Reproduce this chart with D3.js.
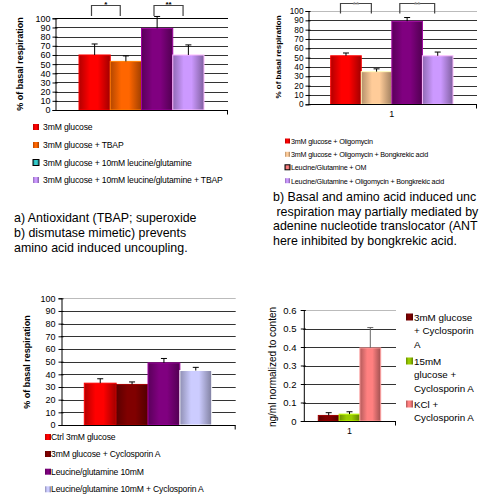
<!DOCTYPE html>
<html>
<head>
<meta charset="utf-8">
<script src="https://cdn.jsdelivr.net/npm/d3@7"></script>
<style>
  body { margin: 0; background: #fff; }
  svg { display: block; font-family: "Liberation Sans", Arial, sans-serif; }
</style>
</head>
<body>
<div id="chart"></div>
<script>
// ---- data ----
var p1Cats = ["3mM glucose", "3mM glucose + TBAP", "3mM glucose + 10mM  leucine/glutamine", "3mM glucose + 10mM leucine/glutamine + TBAP"];
var p1Values = [60, 53, 89, 60];
var p1Errors = [12, 6, 13, 11];
var p1Colors = ["#ff0000", "#ff6600", "#800080", "#cc99ff"];
var p1Swatch = ["#ff0000", "#ff6600", "#33cccc", "#cc99ff"];

var p2Cats = ["3mM glucose + Oligomycin", "3mM glucose + Oligomycin + Bongkrekic acid", "Leucine/Glutamine + OM", "Leucine/Glutamine + Oligomycin + Bongkrekic acid"];
var p2Values = [52, 35, 89, 52];
var p2Errors = [3, 3, 4, 4];
var p2Colors = ["#ff0000", "#ffcc99", "#800080", "#cc99ff"];
var p2Swatch = ["#ff0000", "#ffcc99", "#ff8080", "#cc99ff"];

var p3Cats = ["Ctrl 3mM glucose", "3mM glucose + Cyclosporin A", "Leucine/glutamine 10mM", "Leucine/glutamine 10mM + Cyclosporin A"];
var p3Values = [33, 32, 49, 43];
var p3Errors = [3.5, 2, 3.5, 2.5];
var p3Colors = ["#ff0000", "#800000", "#800080", "#ccccff"];

var p4Cats = [["3mM glucose", "+ Cyclosporin", "A"], ["15mM", "glucose +", "Cyclosporin A"], ["KCl +", "Cyclosporin A"]];
var p4Values = [0.03, 0.037, 0.395];
var p4Errors = [0.015, 0.013, 0.11];
var p4Colors = ["#800000", "#99cc00", "#ff8080"];

var pctTicks = [0, 10, 20, 30, 40, 50, 60, 70, 80, 90, 100];
var ngTicks = [0, 0.1, 0.2, 0.3, 0.4, 0.5, 0.6];

var textA = ["a) Antioxidant (TBAP; superoxide", "b) dismutase mimetic) prevents", "amino acid induced uncoupling."];
// the picture cuts these lines at its right edge
var textB = ["b) Basal and amino acid induced unc", " respiration may partially mediated by", "adenine nucleotide translocator (ANT", "here inhibited by bongkrekic acid."];

var svg = d3.select("#chart").append("svg")
    .attr("width", 479)
    .attr("height", 495);
var defs = svg.append("defs");
var gradId = 0;

// excel style shaded bar
function shade(color) {
    var id = "g" + (gradId++);
    var c = d3.color(color);
    var g = defs.append("linearGradient").attr("id", id)
        .attr("x1", "0").attr("x2", "1").attr("y1", "0").attr("y2", "0");
    g.append("stop").attr("offset", "0%").attr("stop-color", c.darker(1));
    g.append("stop").attr("offset", "35%").attr("stop-color", c);
    g.append("stop").attr("offset", "60%").attr("stop-color", c);
    g.append("stop").attr("offset", "100%").attr("stop-color", c.darker(1.3));
    return "url(#" + id + ")";
}

function drawPanel(o) {
    var g = svg.append("g");
    var y = d3.scaleLinear().domain(o.domain).range([o.bottom, o.top]);
    var x = d3.scaleBand().domain(d3.range(o.values.length)).range(o.barRange).padding(0);

    // gridlines
    g.selectAll(".grid")
        .data(o.ticks.slice(1))
        .enter().append("line")
        .attr("x1", o.left).attr("x2", o.right)
        .attr("y1", function(d) { return Math.round(y(d)) + 0.5; })
        .attr("y2", function(d) { return Math.round(y(d)) + 0.5; })
        .attr("stroke", function(d, i) { return (i == o.ticks.length - 2) ? o.topColor : "#333"; })
        .attr("stroke-width", 1);

    // bars
    g.selectAll(".bar")
        .data(o.values)
        .enter().append("rect")
        .attr("x", function(d, i) { return x(i); })
        .attr("width", x.bandwidth())
        .attr("y", function(d) { return y(d); })
        .attr("height", function(d) { return y(o.domain[0]) - y(d); })
        .attr("fill", function(d, i) { return shade(o.colors[i]); })
        .attr("stroke", function(d, i) { return d3.color(o.colors[i]).brighter(0.6); })
        .attr("stroke-width", 1);

    // error bars
    var eb = g.selectAll(".err")
        .data(o.values)
        .enter().append("g");
    eb.append("line")
        .attr("x1", function(d, i) { return x(i) + x.bandwidth() / 2; })
        .attr("x2", function(d, i) { return x(i) + x.bandwidth() / 2; })
        .attr("y1", function(d) { return y(d); })
        .attr("y2", function(d, i) { return y(d + o.errors[i]); })
        .attr("stroke", function(d, i) { return o.errColor ? o.errColor[i] : "#000"; });
    eb.append("line")
        .attr("x1", function(d, i) { return x(i) + x.bandwidth() / 2 - 3; })
        .attr("x2", function(d, i) { return x(i) + x.bandwidth() / 2 + 3; })
        .attr("y1", function(d, i) { return y(d + o.errors[i]); })
        .attr("y2", function(d, i) { return y(d + o.errors[i]); })
        .attr("stroke", function(d, i) { return o.errColor ? o.errColor[i] : "#000"; });

    // y axis
    var ax = g.append("g")
        .attr("transform", "translate(" + (o.left + 0.5) + ",0)")
        .call(d3.axisLeft(y).tickValues(o.ticks).tickSize(3).tickFormat(o.fmt || d3.format("d")));
    ax.select(".domain").attr("stroke", "#000");
    ax.selectAll(".tick line").attr("x2", 2).attr("x1", -3).attr("stroke", "#000");
    ax.selectAll("text")
        .attr("x", o.labelX - o.left)
        .style("font-size", o.tickSize + "px")
        .style("font-family", "'Liberation Sans', Arial, sans-serif")
        .attr("fill", "#000");

    // x axis line
    var yb = Math.round(y(o.domain[0])) + 0.5;
    g.append("line").attr("x1", o.left).attr("x2", o.right)
        .attr("y1", yb).attr("y2", yb).attr("stroke", "#000");
    g.append("line").attr("x1", o.right - 0.5).attr("x2", o.right - 0.5)
        .attr("y1", yb).attr("y2", yb + 4).attr("stroke", "#000");
    if (o.cat) {
        g.append("text")
            .attr("x", (o.barRange[0] + o.barRange[1]) / 2)
            .attr("y", yb + 12)
            .attr("text-anchor", "middle")
            .style("font-size", "9px")
            .text(o.cat);
    }

    // y title
    g.append("text")
        .attr("transform", "translate(" + o.titleX + "," + o.titleY + ") rotate(-90)")
        .attr("text-anchor", "middle")
        .attr("dominant-baseline", "central")
        .style("font-size", o.titleSize + "px")
        .style("font-weight", o.titleBold ? "bold" : "normal")
        .text(o.title);

    // significance brackets
    if (o.brackets) {
        o.brackets.forEach(function(b) {
            var x1 = x(b.from) + x.bandwidth() * b.f1;
            var x2 = x(b.to) + x.bandwidth() * b.f2;
            g.append("path")
                .attr("d", "M" + x1 + "," + b.y2 + "V" + b.y1 + "H" + x2 + "V" + b.y2)
                .attr("fill", "none").attr("stroke", "#444").attr("stroke-width", 1.2);
            g.append("text")
                .attr("x", (x1 + x2) / 2).attr("y", 7)
                .attr("text-anchor", "middle")
                .style("font-size", "8px").style("font-weight", "bold")
                .attr("fill", b.labelColor || "#000")
                .text(b.label);
        });
    }
    return x;
}

function drawLegend(o) {
    var g = svg.append("g");
    var it = g.selectAll(".li").data(o.labels).enter().append("g")
        .attr("transform", function(d, i) { return "translate(" + o.x + "," + o.ys[i] + ")"; });
    it.append("rect")
        .attr("x", 0).attr("y", -o.sw / 2)
        .attr("width", o.sw).attr("height", o.sw)
        .attr("fill", function(d, i) { return shade(o.colors[i]); })
        .attr("stroke", function(d, i) { return o.border && o.border[i] ? "#000" : "none"; });
    it.each(function(d) {
        var lines = Array.isArray(d) ? d : [d];
        var t = d3.select(this).append("text")
            .attr("x", o.tx)
            .attr("y", 0)
            .attr("dominant-baseline", "central")
            .style("font-size", o.size + "px")
            .style("letter-spacing", o.ls || "0px");
        lines.forEach(function(l, k) {
            t.append("tspan").attr("x", k == 0 ? o.tx : o.tx + (o.indent || 0)).attr("dy", k == 0 ? 0 : o.lh).text(l);
        });
    });
}

function drawText(lines, x, y0, lh, size) {
    svg.append("g").selectAll("text").data(lines).enter().append("text")
        .attr("x", x)
        .attr("y", function(d, i) { return y0 + i * lh; })
        .attr("dominant-baseline", "central")
        .style("font-size", size + "px")
        .style("white-space", "pre")
        .attr("xml:space", "preserve")
        .text(function(d) { return d; });
}

// ---- panel a ----
drawPanel({
    values: p1Values, errors: p1Errors, colors: p1Colors,
    domain: [0, 100], ticks: pctTicks,
    top: 18.3, bottom: 110, left: 55, right: 228, barRange: [79, 204],
    labelX: 50, tickSize: 9, topColor: "#000",
    title: "% of basal respiration", titleX: 20, titleY: 64, titleSize: 9, titleBold: true,
    brackets: [
        { from: 0, to: 1, f1: 0.4, f2: 0.32, y1: 5.5, y2: 16, label: "*" },
        { from: 2, to: 3, f1: 0.4, f2: 0.33, y1: 5.5, y2: 16, label: "**" }
    ]
});
drawLegend({ labels: p1Cats, colors: p1Swatch, border: [false, false, true, false],
    x: 33, ys: [127, 145, 162.5, 180], sw: 6, tx: 10, size: 8.6, ls: "-0.15px" });
drawText(textA, 14, 218, 15, 12.4);

// ---- panel b ----
drawPanel({
    values: p2Values, errors: p2Errors, colors: p2Colors,
    domain: [0, 100], ticks: pctTicks,
    top: 11, bottom: 104.3, left: 308, right: 477, barRange: [330.7, 453],
    labelX: 303, tickSize: 8.3, topColor: "#bbb", cat: "1",
    title: "% of basal respiration", titleX: 278, titleY: 57, titleSize: 8, titleBold: true,
    brackets: [
        { from: 0, to: 1, f1: 0.32, f2: 0.33, y1: 3.5, y2: 13.5, label: "**", labelColor: "#888" },
        { from: 2, to: 3, f1: 0.26, f2: 0.4, y1: 3.5, y2: 13.5, label: "**", labelColor: "#888" }
    ]
});
drawLegend({ labels: p2Cats, colors: p2Swatch, border: [false, false, true, false],
    x: 285, ys: [141, 154.3, 167.3, 180.7], sw: 5, tx: 6, size: 7.2, ls: "-0.2px" });
drawText(textB, 273, 197, 14.7, 12.4);

// ---- panel c ----
drawPanel({
    values: p3Values, errors: p3Errors, colors: p3Colors,
    domain: [0, 100], ticks: pctTicks,
    top: 298.3, bottom: 425, left: 61, right: 235.7, barRange: [84.3, 211.7],
    labelX: 55, tickSize: 9, topColor: "#bbb",
    title: "% of basal respiration", titleX: 27, titleY: 362, titleSize: 9, titleBold: true
});
drawLegend({ labels: p3Cats, colors: p3Colors,
    x: 45, ys: [437, 454, 471.7, 489.3], sw: 6, tx: 6, size: 8.6, ls: "-0.15px" });

// ---- panel d ----
drawPanel({
    values: p4Values, errors: p4Errors, colors: p4Colors,
    domain: [0, 0.6], ticks: ngTicks, fmt: function(d) { return d == 0 ? "0" : d3.format(".1f")(d); },
    top: 310, bottom: 421, left: 303.3, right: 396, barRange: [318.3, 380.7],
    labelX: 296, tickSize: 9.5, topColor: "#bbb", cat: "1",
    errColor: ["#000", "#000", "#666"],
    title: "ng/ml normalized to conten", titleX: 272, titleY: 367, titleSize: 10, titleBold: false
});
drawLegend({ labels: p4Cats, colors: p4Colors,
    x: 406, ys: [317, 361, 404], sw: 7, tx: 8, indent: 0, lh: 13.3, size: 9.8 });
</script>
</body>
</html>
